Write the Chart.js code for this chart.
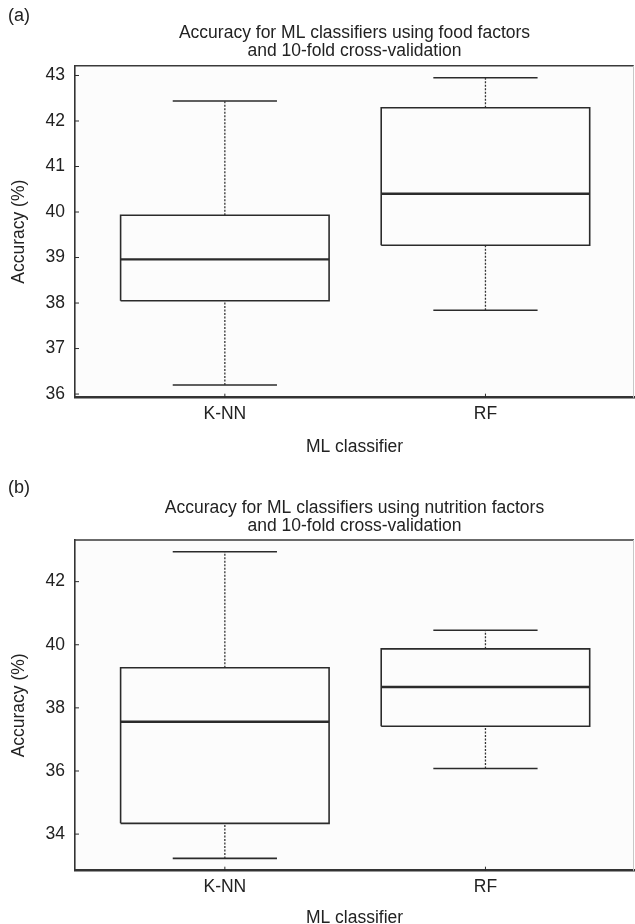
<!DOCTYPE html>
<html><head><meta charset="utf-8">
<script src="https://cdn.jsdelivr.net/npm/chart.js@4.4.1/dist/chart.umd.min.js"></script>
<style>
html,body{margin:0;padding:0;background:#fff;overflow:hidden;}
.panel{position:absolute;left:0;width:635px;height:462px;}
</style></head><body>
<div class="panel" style="top:0"><canvas id="ca"></canvas></div>
<div class="panel" style="top:462px"><canvas id="cb"></canvas></div>
<script>
// ---- data ----
const categories = ['K-NN', 'RF'];
// (a) food factors
const foodMin    = [36.20, 37.84];
const foodQ1     = [38.05, 39.27];
const foodMedian = [38.96, 40.40];
const foodQ3     = [39.93, 42.29];
const foodMax    = [42.44, 42.95];
const foodTicks  = [36, 37, 38, 39, 40, 41, 42, 43];
// (b) nutrition factors
const nutrMin    = [33.23, 36.08];
const nutrQ1     = [34.34, 37.42];
const nutrMedian = [37.56, 38.66];
const nutrQ3     = [39.27, 39.87];
const nutrMax    = [42.95, 40.46];
const nutrTicks  = [34, 36, 38, 40, 42];

const titleA = ['Accuracy for ML classifiers using food factors', 'and 10-fold cross-validation'];
const titleB = ['Accuracy for ML classifiers using nutrition factors', 'and 10-fold cross-validation'];
const yLabel = 'Accuracy (%)';
const xLabel = 'ML classifier';

// ---- drawing ----
const FONT = "'Liberation Sans', Arial, Helvetica, sans-serif";
const FS = 17.5;
const INK = '#222';
const LINE = '#2b2b2b';

function seg(points, width, dash, color) {
  return {
    data: points, showLine: true, pointRadius: 0, pointHoverRadius: 0,
    borderColor: color || LINE, borderWidth: width, borderDash: dash || [],
    borderCapStyle: 'butt', borderJoinStyle: 'miter', fill: false, tension: 0
  };
}
function boxDatasets(mn, q1, md, q3, mx) {
  const ds = [];
  const hw = 0.4, cw = 0.2;
  categories.forEach((c, i) => {
    const x = i + 1;
    ds.push(seg([{x: x - hw, y: q1[i]}, {x: x + hw, y: q1[i]}, {x: x + hw, y: q3[i]}, {x: x - hw, y: q3[i]}, {x: x - hw, y: q1[i]}], 1.6));
    ds.push(seg([{x: x - hw, y: md[i]}, {x: x + hw, y: md[i]}], 2.4));
    ds.push(seg([{x: x, y: q3[i]}, {x: x, y: mx[i]}], 1.3, [2, 1.5], '#333'));
    ds.push(seg([{x: x, y: mn[i]}, {x: x, y: q1[i]}], 1.3, [2, 1.5], '#333'));
    ds.push(seg([{x: x - cw, y: mx[i]}, {x: x + cw, y: mx[i]}], 1.6));
    ds.push(seg([{x: x - cw, y: mn[i]}, {x: x + cw, y: mn[i]}], 1.6));
  });
  return ds;
}

const framePlugin = {
  id: 'frame',
  beforeDraw(chart) {
    const {ctx, chartArea: a} = chart;
    ctx.save();
    ctx.fillStyle = '#fcfcfc';
    ctx.fillRect(a.left, a.top, a.right - a.left, a.bottom - a.top);
    ctx.restore();
  },
  afterDraw(chart, args, o) {
    const {ctx, chartArea: a, scales} = chart;
    ctx.save();
    // top and right border
    ctx.strokeStyle = '#3a3a3a'; ctx.lineWidth = 1.6;
    ctx.beginPath(); ctx.moveTo(a.left, a.top); ctx.lineTo(a.right, a.top); ctx.stroke();
    ctx.strokeStyle = '#c8c8c8'; ctx.lineWidth = 1;
    ctx.beginPath(); ctx.moveTo(a.right - 0.5, a.top); ctx.lineTo(a.right - 0.5, a.bottom); ctx.stroke();
    // inward ticks
    ctx.strokeStyle = LINE; ctx.lineWidth = 1;
    scales.y.ticks.forEach(t => {
      const y = scales.y.getPixelForValue(t.value);
      ctx.beginPath(); ctx.moveTo(a.left, y); ctx.lineTo(a.left + 4, y); ctx.stroke();
    });
    scales.x.ticks.forEach(t => {
      const x = scales.x.getPixelForValue(t.value);
      ctx.beginPath(); ctx.moveTo(x, a.bottom); ctx.lineTo(x, a.bottom - 4); ctx.stroke();
    });
    // titles
    ctx.fillStyle = INK;
    ctx.font = FS + 'px ' + FONT;
    ctx.textAlign = 'center'; ctx.textBaseline = 'alphabetic';
    const cx = (a.left + a.right) / 2;
    ctx.fillText(o.lines[0], cx, a.top - 27.5);
    ctx.fillText(o.lines[1], cx, a.top - 9.5);
    ctx.textAlign = 'left';
    ctx.font = '18px ' + FONT;
    ctx.fillText(o.letter, 8, o.letterY);
    ctx.restore();
  }
};

function makeChart(id, cfg) {
  return new Chart(document.getElementById(id), {
    type: 'scatter',
    data: {datasets: boxDatasets(cfg.mn, cfg.q1, cfg.md, cfg.q3, cfg.mx)},
    plugins: [framePlugin],
    options: {
      responsive: true, maintainAspectRatio: false, animation: false,
      devicePixelRatio: 1,
      layout: {padding: {top: cfg.top, left: 0, right: 1, bottom: 0}},
      plugins: {
        legend: {display: false}, tooltip: {enabled: false}, title: {display: false},
        frame: {lines: cfg.lines, letter: cfg.letter, letterY: cfg.letterY}
      },
      scales: {
        x: {
          type: 'linear', min: 0.425, max: 2.57,
          afterBuildTicks: s => { s.ticks = categories.map((c, i) => ({value: i + 1})); },
          afterFit: s => { s.height = cfg.xHeight; },
          grid: {display: false, drawTicks: false},
          border: {display: true, color: '#333', width: 2.5},
          ticks: {color: INK, font: {family: FONT, size: FS}, padding: 6, autoSkip: false, maxRotation: 0,
                  callback: v => categories[v - 1]},
          title: {display: true, text: xLabel, color: INK, font: {family: FONT, size: FS, lineHeight: cfg.xtLH}, padding: 0}
        },
        y: {
          type: 'linear', min: cfg.yMin, max: cfg.yMax,
          afterBuildTicks: s => { s.ticks = cfg.ticks.map(v => ({value: v})); },
          afterFit: s => { s.width = 75; },
          grid: {display: false, drawTicks: false},
          border: {display: true, color: '#333', width: 1.6},
          ticks: {color: INK, font: {family: FONT, size: FS}, padding: 10, callback: v => String(v)},
          title: {display: true, text: yLabel, color: INK, font: {family: FONT, size: FS}, padding: {top: 9, bottom: 0}}
        }
      }
    }
  });
}

makeChart('ca', {
  mn: foodMin, q1: foodQ1, md: foodMedian, q3: foodQ3, mx: foodMax, ticks: foodTicks,
  yMin: 35.92, yMax: 43.215, top: 65.7, xHeight: 64.3, xtLH: 1.714,
  lines: titleA, letter: '(a)', letterY: 21
});
makeChart('cb', {
  mn: nutrMin, q1: nutrQ1, md: nutrMedian, q3: nutrQ3, mx: nutrMax, ticks: nutrTicks,
  yMin: 32.84, yMax: 43.32, top: 78, xHeight: 53.3, xtLH: 0.69,
  lines: titleB, letter: '(b)', letterY: 31
});
</script>
</body></html>
